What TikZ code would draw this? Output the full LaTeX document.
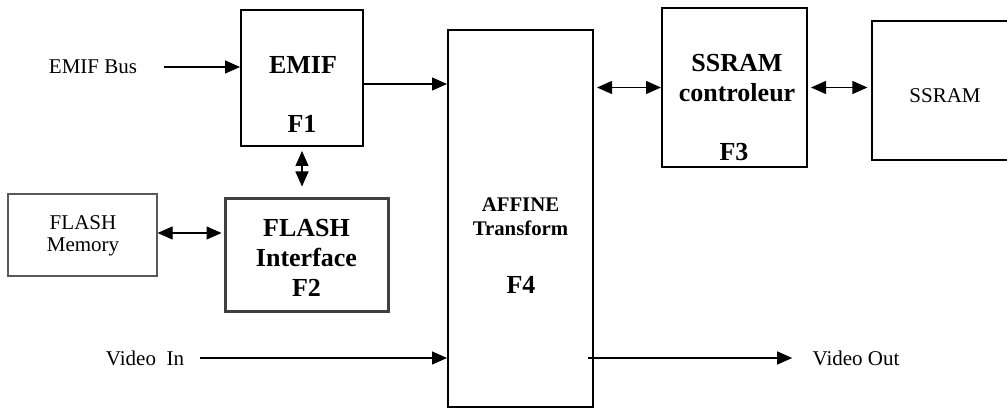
\documentclass[tikz,border=0pt]{standalone}
\usepackage{fontspec}
\setmainfont{Liberation Serif}
\usetikzlibrary{arrows.meta}

\tikzset{
  blk/.style={draw, line width=1pt, inner sep=0pt},
  thinblk/.style={draw, line width=0.6pt, inner sep=0pt},
  txt/.style={inner sep=0pt, align=center, font=\fontsize{10.5}{11}\selectfont},
  btxt/.style={inner sep=0pt, align=center, font=\fontsize{13}{15}\selectfont\bfseries},
  sbtxt/.style={inner sep=0pt, align=center, font=\fontsize{10.4}{12}\selectfont\bfseries},
  link/.style={line width=0.6pt},
}

\begin{document}
\begin{tikzpicture}[x=0.5pt,y=-0.5pt,>={Triangle[length=7.5pt,width=6.5pt]}]
  \path[use as bounding box] (0,0) rectangle (1007,410);
  \clip (0,0) rectangle (1007,410);
  \node[blk, minimum width=61pt, minimum height=68pt] (emif) at (302,78) {};
  \node[blk, minimum width=72.5pt, minimum height=188.5pt] (affine) at (520.5,218.5) {};
  \node[blk, minimum width=72.5pt, minimum height=79.5pt] (ctrl) at (734.5,87.5) {};
  \node[thinblk, minimum width=73pt, minimum height=69.5pt] (ssram) at (945,90.5) {};
  \node[thinblk, draw=black!65, minimum width=74.5pt, minimum height=41pt] (flashmem) at (82.5,235) {};
  \node[blk, draw=black!75, line width=1.5pt, minimum width=81.5pt, minimum height=56.5pt] (flashif) at (306.5,255.5) {};
  \node[btxt] (emif-l) at (303,65) {EMIF};
  \node[btxt] (emif-f) at (302,124) {F1};
  \node[sbtxt] (affine-l) at (520.5,217) {AFFINE\\Transform};
  \node[btxt] (affine-f) at (521,285) {F4};
  \node[btxt] (ctrl-l) at (737,78) {SSRAM\\controleur};
  \node[btxt] (ctrl-f) at (734,152) {F3};
  \node[btxt] (flashif-l) at (306.5,258) {FLASH\\Interface\\F2};
  \node[txt] (flashmem-l) at (83,235.5) {FLASH\\Memory};
  \node[txt] (ssram-l) at (945,96) {SSRAM};
  \node[txt] (bus) at (93,67) {EMIF Bus};
  \node[txt] (vin) at (145,358) {Video\ \ In};
  \node[txt] (vout) at (856,358) {Video Out};
  \draw[link,->,shorten <=13.5pt] (bus.east) -- (bus.east -| emif.west);
  \draw[link,->] ([yshift=-3pt]emif.east) -- ([yshift=-3pt]emif.east -| affine.west);
  \draw[link,<->,shorten <=1.5pt] (ctrl.west -| affine.east) -- (ctrl.west);
  \draw[link,<->,shorten <=1.5pt,shorten >=2pt] (ctrl.east) -- (ctrl.east -| ssram.west);
  \draw[link,<->,shorten <=2pt,shorten >=5.5pt] (emif.south) -- (emif.south |- flashif.north);
  \draw[link,<->,shorten >=1pt] ([yshift=1pt]flashmem.east) -- ([yshift=1pt]flashmem.east -| flashif.west);
  \draw[link,->,shorten <=8pt] (vin.east) -- (vin.east -| affine.west);
  \draw[link,->,shorten <=-3pt,shorten >=10pt] (vout.west -| affine.east) -- (vout.west);
\end{tikzpicture}
\end{document}
